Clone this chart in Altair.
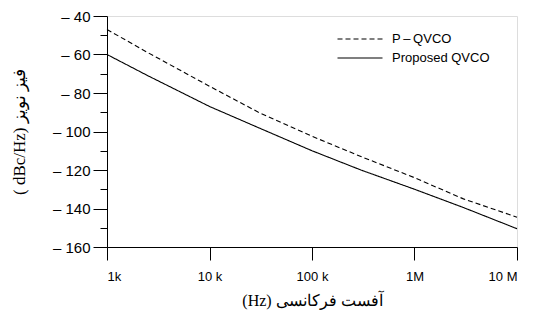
import altair as alt
import pandas as pd

freqs = [1e3, 2.5e3, 1e4, 3e4, 1e5, 3e5, 1e6, 3e6, 1e7]
p_qvco = [-47, -59, -76.5, -90, -102.5, -113, -124, -135, -144.5]
proposed = [-60, -71, -87, -98, -110, -120, -130, -139.5, -150.5]
series_names = ["P\u2009\u2013\u2009QVCO", "Proposed QVCO"]

rows = []
for f, v in zip(freqs, p_qvco):
    rows.append({"f": f, "v": v, "s": series_names[0]})
for f, v in zip(freqs, proposed):
    rows.append({"f": f, "v": v, "s": series_names[1]})
df = pd.DataFrame(rows)

x_ticks = [1e3, 1e4, 1e5, 1e6, 1e7]
y_ticks = list(range(-160, -39, 10))

x_label_expr = ("datum.value==1000?'1k':datum.value==10000?'10 k':"
                "datum.value==100000?'100 k':datum.value==1000000?'1M':'10 M'")
y_label_expr = "datum.value % 20 === 0 ? '\u2013 ' + abs(datum.value) : ''"

chart = alt.Chart(df).mark_line(color="black", strokeWidth=1.1).encode(
    x=alt.X("f:Q",
            scale=alt.Scale(type="log", domain=[1e3, 1e7], nice=False),
            axis=alt.Axis(values=x_ticks, labelExpr=x_label_expr, grid=False,
                          tickSize=13, labelPadding=10, labelFontSize=13,
                          labelFont="Liberation Sans", labelColor="black",
                          domainColor="black", tickColor="black",
                          title="(Hz) آفست فرکانسی", titleFont="Liberation Serif",
                          titleFontSize=16, titleFontWeight="normal",
                          titleColor="black", titlePadding=9)),
    y=alt.Y("v:Q",
            scale=alt.Scale(domain=[-160, -40], nice=False),
            axis=alt.Axis(values=y_ticks, labelExpr=y_label_expr, grid=False,
                          tickSize={"condition": {"test": "datum.value % 20 === 0", "value": 14}, "value": 7},
                          labelPadding=3, labelFontSize=15,
                          labelFont="Liberation Sans", labelColor="black",
                          domainColor="black", tickColor="black",
                          title="( dBc/Hz) فیز نویز", titleFont="Liberation Serif",
                          titleFontSize=17, titleFontWeight="normal",
                          titleColor="black", titlePadding=24)),
    strokeDash=alt.StrokeDash("s:N",
        scale=alt.Scale(domain=series_names, range=[[5, 3], [1, 0]]),
        legend=alt.Legend(title=None, orient="none", legendX=243, legendY=13,
                          symbolType="M-2.5,0H2.5", symbolSize=324,
                          symbolStrokeColor="black", symbolStrokeWidth=1.1,
                          labelFont="Liberation Sans", labelFontSize=13,
                          labelColor="black", rowPadding=2, labelOffset=22)),
    detail="s:N",
).properties(
    width=410, height=231,
    autosize=alt.AutoSizeParams(type="none"),
    padding={"left": 99, "top": 8, "right": 12, "bottom": 65},
).configure_view(stroke="black", strokeWidth=1).configure(background="white")

chart.save("out.html", embed_options={"renderer": "svg", "actions": False})
